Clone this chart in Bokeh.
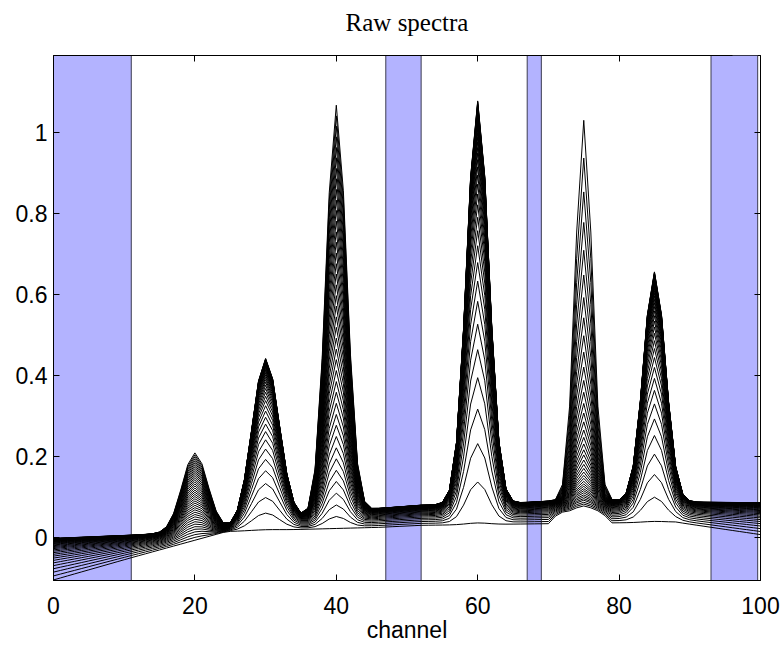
import numpy as np
from bokeh.plotting import figure
from bokeh.models import Range1d, FixedTicker, CustomJSTickFormatter, LinearAxis
from bokeh.embed import file_html
from bokeh.resources import INLINE

# ---- data ----
channel = list(range(0, 101))

peak_center = [20, 30, 40, 60, 75, 85]
peak_height = [0.195, 0.417, 1.01, 1.012, 0.94, 0.577]
peak_sigma = [1.8, 1.9, 1.45, 1.55, 1.2, 1.55]
peak_profile = ["lin", "sat", "lin", "sat", "conv", "sat"]

level_sat = [0.004, 0.099, 0.188, 0.268, 0.341, 0.406, 0.465, 0.518, 0.565, 0.608,
             0.647, 0.682, 0.713, 0.742, 0.767, 0.790, 0.811, 0.830, 0.847, 0.862,
             0.875, 0.888, 0.899, 0.909, 0.918, 0.926, 0.933, 0.940, 0.946, 0.951,
             0.956, 0.960, 0.964, 0.968, 0.971, 0.974, 0.976, 0.979, 0.981, 0.983]
level_lin = [0.0, 0.026, 0.051, 0.077, 0.103, 0.128, 0.154, 0.179, 0.205, 0.231,
             0.256, 0.282, 0.308, 0.333, 0.359, 0.385, 0.410, 0.436, 0.462, 0.487,
             0.513, 0.538, 0.564, 0.590, 0.615, 0.641, 0.667, 0.692, 0.718, 0.744,
             0.769, 0.795, 0.821, 0.846, 0.872, 0.897, 0.923, 0.949, 0.974, 1.0]
level_conv = [0.017, 0.019, 0.021, 0.024, 0.026, 0.029, 0.032, 0.036, 0.040, 0.044,
              0.049, 0.054, 0.060, 0.067, 0.074, 0.082, 0.091, 0.101, 0.112, 0.125,
              0.138, 0.153, 0.170, 0.189, 0.210, 0.233, 0.258, 0.287, 0.318, 0.353,
              0.392, 0.435, 0.482, 0.535, 0.594, 0.659, 0.732, 0.812, 0.901, 1.0]

base_x = [0, 11, 24.5, 35, 46, 52, 65, 70, 71.5, 77.5, 79, 88, 100]
base_low = [-0.105, -0.050, 0.015, 0.020, 0.025, 0.030, 0.033, 0.034, 0.062, 0.062, 0.036, 0.038, 0.007]
base_high = [-0.002, 0.006, 0.018, 0.045, 0.072, 0.080, 0.085, 0.090, 0.090, 0.090, 0.090, 0.088, 0.086]

region_start = [0, 47, 67, 93]
region_end = [11, 52, 69, 99.6]

x_ticks = [0, 20, 40, 60, 80, 100]
y_ticks = [0, 0.2, 0.4, 0.6, 0.8, 1]
x_lim = (0, 100)
y_lim = (-0.106, 1.19)
title_text = "Raw spectra"

# ---- build spectra ----
x = np.array(channel, dtype=float)
levels = {"sat": level_sat, "lin": level_lin, "conv": level_conv}
n_spec = len(level_sat)
bl_low = np.interp(x, base_x, base_low)
bl_high = np.interp(x, base_x, base_high)
xs, ys = [], []
for k in range(n_spec):
    w = level_sat[k] / level_sat[-1]
    y = bl_low + w * (bl_high - bl_low)
    for c, h, s, prof in zip(peak_center, peak_height, peak_sigma, peak_profile):
        y = y + levels[prof][k] * h * np.exp(-0.5 * ((x - c) / s) ** 2)
    xs.append(list(x))
    ys.append(list(y))

FONT = "Liberation Sans"
p = figure(width=782, height=645, x_range=Range1d(*x_lim), y_range=Range1d(*y_lim),
           output_backend="svg", toolbar_location=None,
           min_border_left=53, min_border_right=22, min_border_top=55, min_border_bottom=59)
p.grid.visible = False
p.outline_line_color = "black"
p.outline_line_width = 1
p.background_fill_color = "white"

p.quad(left=region_start, right=region_end, bottom=y_lim[0], top=y_lim[1],
       fill_color="#b3b3ff", line_color="#3c3c50", line_width=1)

p.multi_line(xs, ys, line_color="black", line_width=1)

fmt = CustomJSTickFormatter(code="return String(Math.round(tick*10)/10);")
blank = CustomJSTickFormatter(code="return '';")
for ax in (p.xaxis[0], p.yaxis[0]):
    ax.major_tick_in = 6
    ax.major_tick_out = 0
    ax.minor_tick_line_color = None
    ax.major_label_text_font = FONT
    ax.major_label_text_font_size = "23px"
    ax.major_label_text_color = "black"
    ax.axis_line_color = "black"
    ax.major_tick_line_color = "black"
    ax.formatter = fmt
p.xaxis[0].ticker = FixedTicker(ticks=x_ticks)
p.yaxis[0].ticker = FixedTicker(ticks=y_ticks)
p.xaxis[0].major_label_standoff = 16
p.yaxis[0].major_label_standoff = 6
p.xaxis[0].axis_label = "channel"
p.xaxis[0].axis_label_text_font = FONT
p.xaxis[0].axis_label_text_font_size = "23px"
p.xaxis[0].axis_label_text_font_style = "normal"
p.xaxis[0].axis_label_text_color = "black"
p.xaxis[0].axis_label_standoff = 0

# top axis carries the mirrored ticks and the title (bounds shift the title's centre
# to where the reference has it)
top_ax = LinearAxis(ticker=FixedTicker(ticks=x_ticks), formatter=blank,
                    major_tick_in=6, major_tick_out=0, minor_tick_line_color=None,
                    major_label_standoff=0, bounds=(0, 96),
                    axis_label=title_text, axis_label_standoff=20,
                    axis_label_text_font="Liberation Serif",
                    axis_label_text_font_size="25px",
                    axis_label_text_font_style="normal",
                    axis_label_text_color="black")
right_ax = LinearAxis(ticker=FixedTicker(ticks=y_ticks), formatter=blank,
                      major_tick_in=6, major_tick_out=0, minor_tick_line_color=None,
                      major_label_standoff=0)
p.add_layout(top_ax, "above")
p.add_layout(right_ax, "right")

open("out.html", "w").write(file_html(p, INLINE))
